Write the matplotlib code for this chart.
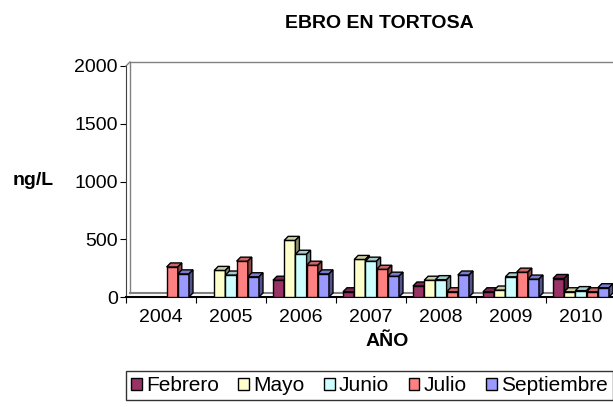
import numpy as np
import matplotlib
matplotlib.use('Agg')
import matplotlib.pyplot as plt
from matplotlib.patches import Polygon, Patch
from matplotlib.colors import to_rgb

plt.rcParams['font.family'] = ['Liberation Sans', 'DejaVu Sans']

years = ['2004', '2005', '2006', '2007', '2008', '2009', '2010']
months = ['Febrero', 'Mayo', 'Junio', 'Julio', 'Septiembre']
nan = np.nan
febrero = [nan, nan, 145, 45, 95, 45, 160]
mayo = [nan, 230, 490, 325, 145, 60, 45]
junio = [nan, 190, 370, 310, 150, 175, 55]
julio = [260, 310, 275, 240, 45, 215, 45]
septiembre = [200, 175, 200, 180, 190, 155, 80]
series = [febrero, mayo, junio, julio, septiembre]
colors = ['#993366', '#FFFFCC', '#CCFFFF', '#FF8080', '#9999FF']


def shade(c, f):
    r, g, b = to_rgb(c)
    return (r * f, g * f, b * f)


fig = plt.figure(figsize=(6.13, 4.07), dpi=100)
ax = fig.add_axes([126 / 613, 110 / 407, 490 / 613, 231 / 407])
ax.set_xlim(-0.5, 6.5)
ax.set_ylim(0, 2000)

w = 0.16
dx = 0.057
dy = 35

# back walls (pseudo 3D)
x0 = -0.5
ax.plot([x0 + dx, x0 + dx, 6.6], [dy, 2000 + dy, 2000 + dy], color='#808080', lw=1, clip_on=False)
ax.plot([x0 + dx, 6.6], [dy, dy], color='#808080', lw=1.5, clip_on=False)
ax.plot([x0, x0 + dx], [2000, 2000 + dy], color='#808080', lw=1, clip_on=False)

for i in range(len(years)):
    for j, vals in enumerate(series):
        v = vals[i]
        if np.isnan(v):
            continue
        left = i - 0.4 + j * w
        c = colors[j]
        z = 3 + i * 10 + j * 2
        ax.bar(left, v, width=w, align='edge', color=c, edgecolor='black', lw=1, zorder=z)
        top = Polygon([(left, v), (left + dx, v + dy), (left + w + dx, v + dy), (left + w, v)],
                      closed=True, facecolor=shade(c, 0.8), edgecolor='black', lw=1,
                      zorder=z, clip_on=False)
        side = Polygon([(left + w, 0), (left + w + dx, dy), (left + w + dx, v + dy), (left + w, v)],
                       closed=True, facecolor=shade(c, 0.55), edgecolor='black', lw=1,
                       zorder=z, clip_on=False)
        ax.add_patch(top)
        ax.add_patch(side)

for s in ['top', 'right']:
    ax.spines[s].set_visible(False)
ax.spines['left'].set_color('#404040')
ax.spines['bottom'].set_linewidth(1.5)

ax.set_yticks([0, 500, 1000, 1500, 2000])
ax.tick_params(axis='y', labelsize=14, length=4, pad=2)
ax.set_xticks(np.arange(-0.5, 7, 1))
ax.set_xticklabels([])
ax.set_xticks(range(len(years)), minor=True)
ax.set_xticklabels(years, minor=True)
ax.tick_params(axis='x', which='major', length=4)
ax.tick_params(axis='x', which='minor', length=0, labelsize=14, pad=9)

fig.text(379 / 613, 1 - 23 / 407, 'EBRO EN TORTOSA', ha='center', va='center', fontsize=14, fontweight='bold')
fig.text(33 / 613, 1 - 181 / 407, 'ng/L', ha='center', va='center', fontsize=14, fontweight='bold')
fig.text(387 / 613, 1 - 342 / 407, 'AÑO', ha='center', va='center', fontsize=14, fontweight='bold')

handles = [Patch(facecolor=c, edgecolor='black', lw=1) for c in colors]
leg = fig.legend(handles, months, loc='upper left', bbox_to_anchor=(126 / 613, 1 - 371 / 407),
                 ncol=5, fontsize=15, frameon=True, fancybox=False, edgecolor='black',
                 handlelength=0.5, handleheight=0.55, handletextpad=0.2, columnspacing=0.95,
                 borderpad=0.25, borderaxespad=0)
leg.get_frame().set_linewidth(1)

fig.savefig('out.png', dpi=100)
